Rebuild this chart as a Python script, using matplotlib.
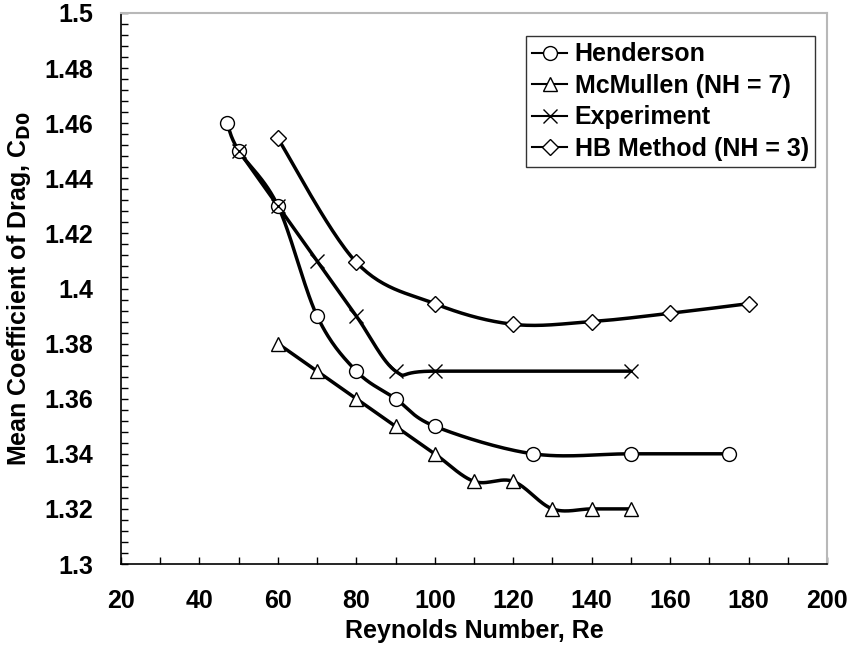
import matplotlib
matplotlib.use('Agg')
import matplotlib.pyplot as plt
import numpy as np
from matplotlib.ticker import MultipleLocator

plt.rcParams['font.family'] = ['Liberation Sans', 'DejaVu Sans']
plt.rcParams['font.weight'] = 'bold'

# data
henderson_re = [47, 50, 60, 70, 80, 90, 100, 125, 150, 175]
henderson_cd = [1.46, 1.45, 1.43, 1.39, 1.37, 1.36, 1.35, 1.34, 1.34, 1.34]

mcmullen_re = [60, 70, 80, 90, 100, 110, 120, 130, 140, 150]
mcmullen_cd = [1.38, 1.37, 1.36, 1.35, 1.34, 1.33, 1.33, 1.32, 1.32, 1.32]

experiment_re = [50, 60, 70, 80, 90, 100, 150]
experiment_cd = [1.45, 1.43, 1.41, 1.39, 1.37, 1.37, 1.37]

hb_re = [60, 80, 100, 120, 140, 160, 180]
hb_cd = [1.4545, 1.4095, 1.3945, 1.387, 1.388, 1.391, 1.3945]


def smooth(x, y, n=30):
    # Excel style smoothed line (Catmull-Rom through the points)
    x = np.asarray(x, float)
    y = np.asarray(y, float)
    px = np.concatenate([[x[0]], x, [x[-1]]])
    py = np.concatenate([[y[0]], y, [y[-1]]])
    t = np.linspace(0, 1, n)
    xs, ys = [], []
    for i in range(1, len(px) - 2):
        b0x, b0y = px[i], py[i]
        b3x, b3y = px[i + 1], py[i + 1]
        b1x = b0x + (px[i + 1] - px[i - 1]) / 6
        b1y = b0y + (py[i + 1] - py[i - 1]) / 6
        b2x = b3x - (px[i + 2] - px[i]) / 6
        b2y = b3y - (py[i + 2] - py[i]) / 6
        xs.append((1-t)**3*b0x + 3*(1-t)**2*t*b1x + 3*(1-t)*t**2*b2x + t**3*b3x)
        ys.append((1-t)**3*b0y + 3*(1-t)**2*t*b1y + 3*(1-t)*t**2*b2y + t**3*b3y)
    return np.concatenate(xs), np.concatenate(ys)


fig = plt.figure(figsize=(8.51, 6.48), dpi=100)
ax = fig.add_axes([121/851, 1-564/648, 706/851, 551/648])

series = [
    (henderson_re, henderson_cd, 'o', 10, 'Henderson'),
    (mcmullen_re, mcmullen_cd, '^', 10.5, 'McMullen (NH = 7)'),
    (experiment_re, experiment_cd, 'x', 10.5, 'Experiment'),
    (hb_re, hb_cd, 'D', 8, 'HB Method (NH = 3)'),
]

handles = []
for x, y, m, ms, lab in series:
    sx, sy = smooth(x, y)
    ax.plot(sx, sy, color='black', lw=2.5, solid_capstyle='round', zorder=2)
    ax.plot(x, y, linestyle='none', marker=m, ms=ms, mfc='white', mec='black',
            mew=1.0, zorder=3)
    h, = ax.plot([], [], color='black', lw=1.5, marker=m, ms=ms, mfc='white',
                 mec='black', mew=1.0, label=lab)
    handles.append(h)

ax.set_xlim(20, 200)
ax.set_ylim(1.3, 1.5)
ax.xaxis.set_major_locator(MultipleLocator(20))
ax.xaxis.set_minor_locator(MultipleLocator(10))
ax.yaxis.set_major_locator(MultipleLocator(0.02))
ax.yaxis.set_minor_locator(MultipleLocator(0.004))
ax.yaxis.set_major_formatter(plt.FuncFormatter(lambda v, p: f'{v:.2f}'.rstrip('0').rstrip('.')))

ax.tick_params(axis='both', which='both', direction='in', length=5, width=1,
               labelsize=18, top=False, right=False)
ax.tick_params(axis='y', pad=20)
ax.tick_params(axis='x', pad=18)

for s in ['top', 'right']:
    ax.spines[s].set_color('#b8b8b8')
    ax.spines[s].set_linewidth(1.5)
for s in ['left', 'bottom']:
    ax.spines[s].set_color('black')
    ax.spines[s].set_linewidth(1.2)

ax.set_xlabel('Reynolds Number, Re', fontsize=18, fontweight='bold', labelpad=4)
ax.set_ylabel('Mean Coefficient of Drag, C$_{\\mathbf{D0}}$', fontsize=18,
              fontweight='bold', labelpad=8)

leg = ax.legend(handles=handles, loc='upper right',
                bbox_to_anchor=(815/851, 1-36/648), bbox_transform=fig.transFigure,
                borderaxespad=0, frameon=True, fancybox=False, fontsize=18,
                handlelength=1.4, handletextpad=0.3, labelspacing=0.3,
                borderpad=0.25)
leg.get_frame().set_edgecolor('black')
leg.get_frame().set_linewidth(1.0)

fig.savefig('out.png', dpi=100)
